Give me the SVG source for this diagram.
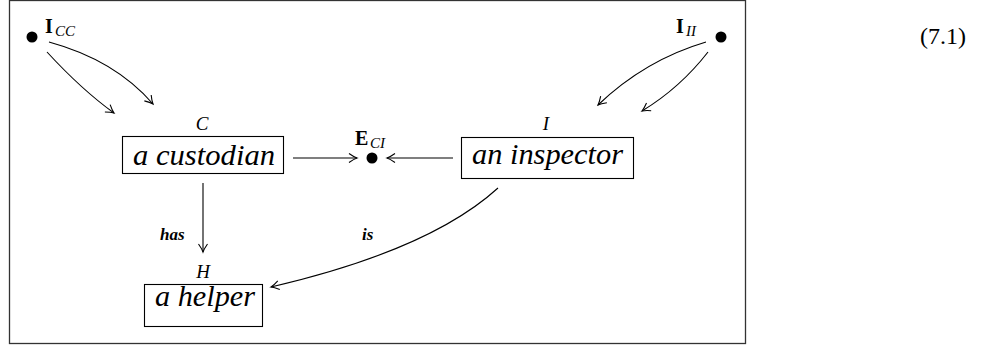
<svg xmlns="http://www.w3.org/2000/svg" width="985" height="345" viewBox="0 0 985 345" font-family="'Liberation Serif', serif">
<style>
.frame{fill:none;stroke:#333;stroke-width:1.3}
.box{fill:#fff;stroke:#000;stroke-width:1.1}
text{font-family:'Liberation Serif',serif;fill:#000}
.big{font-style:italic;font-size:29px}
.lab{font-style:italic;font-size:19px}
.bold{font-weight:bold;font-size:20px}
.sub{font-style:italic;font-size:15px}
.bi{font-style:italic;font-weight:bold;font-size:17px}
.num{font-size:24px}
.arr{fill:none;stroke:#000;stroke-width:1.1;marker-end:url(#ah)}
</style>
<defs>
<marker id="ah" markerWidth="12" markerHeight="12" viewBox="-10 -6 12 12" refX="0" refY="0" orient="auto" markerUnits="userSpaceOnUse">
<path d="M-8,-4.5 Q-3,-1 0,0 Q-3,1 -8,4.5" fill="none" stroke="#000" stroke-width="1.1"/>
</marker>
</defs>
<rect class="frame" x="9.5" y="0.5" width="736" height="343"/>
<g id="connectors">
<path class="arr" d="M49,42 Q115,60 153,104"/>
<path class="arr" d="M47,52 Q82,90 114,113"/>
<path class="arr" d="M706,42 Q645,60 598,105"/>
<path class="arr" d="M708,52 Q680,88 642,111"/>
<path class="arr" d="M293,158 L357,158"/>
<path class="arr" d="M453,158 L387,158"/>
<path class="arr" d="M203,183 L203,252"/>
<path class="arr" d="M498,188 Q430,250 271,287"/>
<text class="bi" x="160" y="240">has</text>
<text class="bi" x="362" y="240">is</text>
</g>
<g id="node-ICC">
<circle cx="32" cy="37" r="5.5" fill="#000"/>
<text class="bold" x="45" y="33">I</text><text class="sub" x="55" y="36">CC</text>
</g>
<g id="node-III">
<circle cx="721" cy="37" r="5.5" fill="#000"/>
<text class="bold" x="676" y="33">I</text><text class="sub" x="686" y="36">II</text>
</g>
<g id="node-ECI">
<circle cx="372" cy="158" r="5.5" fill="#000"/>
<text class="bold" x="355" y="145">E</text><text class="sub" x="370" y="148">CI</text>
</g>
<g id="node-C">
<text class="lab" x="202" y="130" text-anchor="middle">C</text>
<rect class="box" x="122.5" y="136.5" width="161" height="37"/>
<text class="big" x="133" y="165" textLength="142" lengthAdjust="spacingAndGlyphs">a custodian</text>
</g>
<g id="node-I">
<text class="lab" x="546" y="130" text-anchor="middle">I</text>
<rect class="box" x="461.5" y="137.5" width="172" height="41"/>
<text class="big" x="472" y="164" textLength="151" lengthAdjust="spacingAndGlyphs">an inspector</text>
</g>
<g id="node-H">
<text class="lab" x="203" y="278" text-anchor="middle">H</text>
<rect class="box" x="144.5" y="284.5" width="118" height="42"/>
<text class="big" x="155" y="306" textLength="100" lengthAdjust="spacingAndGlyphs">a helper</text>
</g>
<text class="num" x="920" y="44">(7.1)</text>
</svg>
